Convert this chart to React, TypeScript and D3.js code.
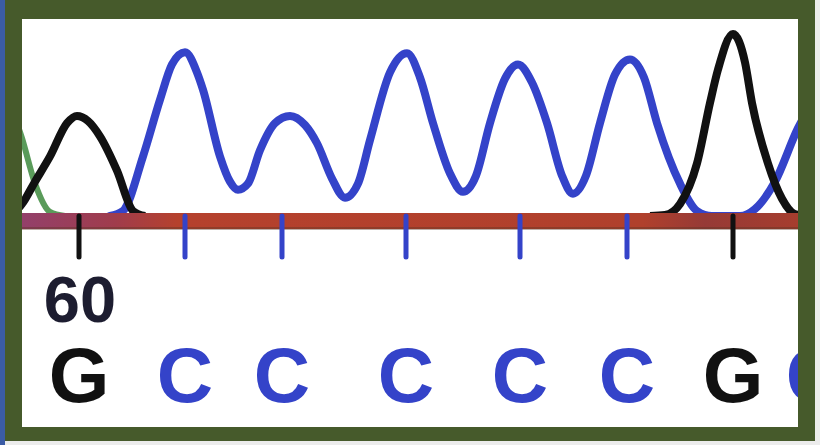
import React from 'react';
import * as d3 from 'd3';

// ---- data (scan units, intensity units) ----
const bases = ['G', 'C', 'C', 'C', 'C', 'C', 'G', 'C'];
const basePositions = [28.5, 81.5, 130, 192, 249, 302.5, 355.5, 396];
const positionLabelIndex = [0];
const positionLabelText = ['60'];

const traceG1: [number, number][] = [
  [-6, 0], [0, 62], [6.5, 177], [14, 307], [22.5, 479], [27.5, 516], [33, 490], [39, 411], [47.5, 234], [55.5, 26], [61.5, 0],
];
const traceG2: [number, number][] = [
  [314, 0], [321.5, 5], [329, 62], [337.5, 271], [344, 583], [348, 755], [355.5, 938], [361.5, 792], [365, 583], [373, 271], [380, 89], [386.5, 10], [394, 0],
];

const traceC: [number, number][] = [
  [44, 0], [50.5, 26], [60.5, 307], [69, 599], [75, 781], [81.5, 844], [87.5, 740], [90.5, 651], [99, 307], [104, 177], [108, 135],
  [113, 167], [119, 339], [126.5, 479], [134, 516], [141.5, 469], [147.5, 375], [155, 193], [161.5, 94], [168, 167], [174, 391],
  [184, 740], [192.5, 839], [199, 714], [205.5, 479], [214, 219], [220.5, 125], [227, 208], [234, 479], [241.5, 708], [248, 781],
  [255, 688], [262.5, 479], [270, 208], [275.5, 115], [282, 208], [289, 479], [296.5, 729], [304, 807], [311, 714], [317.5, 479],
  [329, 167], [337.5, 26], [345, 0], [359, 0], [366.5, 36], [376.5, 177], [388, 453], [392, 531],
];

const traceA: [number, number][] = [
  [-11, 792], [-6, 583], [0, 401], [6.5, 167], [14, 21], [21.5, 0],
];

const baseColor: Record<string, string> = { G: '#111111', C: '#3443c9', A: '#3d8a3d', T: '#b5402c' };

export default function App() {
  const x = d3.scaleLinear().domain([0, 388]).range([22, 798]);
  const y = d3.scaleLinear().domain([0, 1000]).range([216, 22]);
  const line = d3.line<[number, number]>()
    .x(d => x(d[0]))
    .y(d => y(d[1]))
    .curve(d3.curveMonotoneX);

  const baseY = y(0) + 5;

  return (
    <svg width={820} height={445} style={{ position: 'absolute', left: 0, top: 0, background: '#ececec' }}>
      <defs>
        <clipPath id="inner">
          <rect x={22} y={19} width={776} height={408} />
        </clipPath>
        <linearGradient id="baseGrad" gradientUnits="userSpaceOnUse" x1={22} x2={798} y1={0} y2={0}>
          <stop offset="0" stopColor="#93406a" />
          <stop offset="0.12" stopColor="#a03c4c" />
          <stop offset="0.2" stopColor="#b5412d" />
          <stop offset="0.8" stopColor="#b0402c" />
          <stop offset="0.88" stopColor="#963a36" />
          <stop offset="1" stopColor="#a63d2e" />
        </linearGradient>
      </defs>
      <rect x={0} y={0} width={5} height={445} fill="#3b5ca5" />
      <rect x={5} y={0} width={810} height={441} fill="#465a2b" />
      <rect x={22} y={19} width={776} height={408} fill="#ffffff" />
      <g clipPath="url(#inner)">
        <path d={line(traceA) || ''} fill="none" stroke={baseColor.A} strokeWidth={6} strokeLinejoin="round" strokeOpacity={0.85} />
        <path d={line(traceC) || ''} fill="none" stroke={baseColor.C} strokeWidth={8} strokeLinejoin="round" strokeLinecap="round" />
        <path d={line(traceG1) || ''} fill="none" stroke={baseColor.G} strokeWidth={8} strokeLinejoin="round" />
        <path d={line(traceG2) || ''} fill="none" stroke={baseColor.G} strokeWidth={8} strokeLinejoin="round" />
        <line x1={22} x2={798} y1={baseY} y2={baseY} stroke="url(#baseGrad)" strokeWidth={16} />
        <line x1={22} x2={798} y1={baseY + 7.5} y2={baseY + 7.5} stroke="#5a3422" strokeOpacity={0.4} strokeWidth={3} />
        {bases.map((b, i) => (
          <line key={'t' + i} x1={x(basePositions[i])} x2={x(basePositions[i])} y1={y(0)} y2={y(0) + 41}
            stroke={baseColor[b]} strokeWidth={5} strokeLinecap="round" />
        ))}
        {positionLabelIndex.map((idx, i) => (
          <text key={'p' + i} x={x(basePositions[idx]) + 1} y={322} textAnchor="middle"
            fontFamily="'Liberation Sans', Arial, sans-serif" fontWeight={700} fontSize={65} fill="#1d1d30">
            {positionLabelText[i]}
          </text>
        ))}
        {bases.map((b, i) => (
          <text key={'b' + i} x={x(basePositions[i])} y={402} textAnchor="middle"
            fontFamily="'Liberation Sans', Arial, sans-serif" fontWeight={700} fontSize={78} fill={baseColor[b]}>
            {b}
          </text>
        ))}
      </g>
    </svg>
  );
}
